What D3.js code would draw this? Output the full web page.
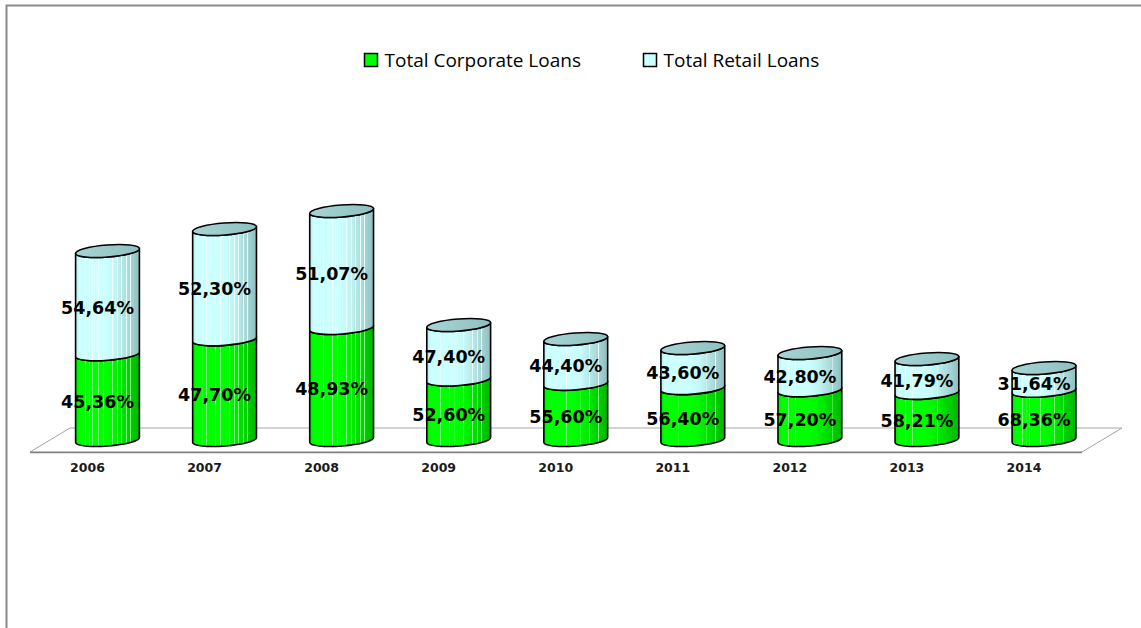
<!DOCTYPE html>
<html>
<head>
<meta charset="utf-8">
<script src="https://cdn.jsdelivr.net/npm/d3@7/dist/d3.min.js"></script>
<style>
  html, body { margin: 0; padding: 0; background: #fff; }
  svg { display: block; }
</style>
</head>
<body>
<svg id="chart" width="1141" height="628"></svg>
<script>
// Loan portfolio structure by year
const years = ["2006", "2007", "2008", "2009", "2010", "2011", "2012", "2013", "2014"];
// Share of corporate loans (%)
const corporateShare = [45.36, 47.70, 48.93, 52.60, 55.60, 56.40, 57.20, 58.21, 68.36];
// Share of retail loans (%)
const retailShare = [54.64, 52.30, 51.07, 47.40, 44.40, 43.60, 42.80, 41.79, 31.64];
// Total loan volume (index) – sets the overall cylinder height
const totalVolume = [18.9, 21.1, 22.9, 11.5, 10.1, 9.2, 8.7, 8.1, 7.2];
const seriesNames = ["Total Corporate Loans", "Total Retail Loans"];

const W = 1141, H = 628;
const svg = d3.select("#chart");

// frame
svg.append("rect").attr("width", W).attr("height", H).attr("fill", "#fff");
svg.append("path")
  .attr("d", `M6.5,${H} V5.5 H${W}`)
  .attr("fill", "none").attr("stroke", "#8a8a8a").attr("stroke-width", 2);

// scales
const x = d3.scalePoint().domain(years).range([107.5, 1044]);
const h = d3.scaleLinear().domain([0, 25]).range([0, 250]);
const baseY = 440;          // centre of cylinder bottoms on the floor
const rx = 32, ry = 6, tilt = -4.4;
const rad = tilt * Math.PI / 180;
const dx = rx * Math.cos(rad), dy = rx * Math.sin(rad);

// gradients for the cylinder walls
const defs = svg.append("defs");
function wallGradient(id, stops) {
  const g = defs.append("linearGradient").attr("id", id)
    .attr("x1", 0).attr("x2", 1).attr("y1", 0).attr("y2", 0);
  stops.forEach(([o, c]) => g.append("stop").attr("offset", o).attr("stop-color", c));
}
function striped(base, light, dark) {
  // smooth shading with thin light stripes across the wall
  const shade = d3.interpolateRgb(base, dark);
  const out = [];
  const stripes = [0.16, 0.22, 0.27, 0.36, 0.44, 0.58, 0.66, 0.72, 0.8, 0.86];
  const col = t => t < 0.5 ? base : shade(Math.pow((t - 0.5) / 0.5, 1.3));
  out.push([0, shade(0.35)]);
  out.push([0.06, base]);
  stripes.forEach(s => {
    out.push([s - 0.006, col(s)]);
    out.push([s - 0.005, light]);
    out.push([s + 0.005, light]);
    out.push([s + 0.006, col(s)]);
  });
  out.push([1, dark]);
  return out;
}
wallGradient("gCorp", striped("#00ff00", "#7dff7d", "#00b400"));
wallGradient("gRetail", striped("#ccffff", "#eaffff", "#8fbdbd"));
const capGrad = defs.append("linearGradient").attr("id", "gCap")
  .attr("x1", 0).attr("x2", 1).attr("y1", 0).attr("y2", 0);
capGrad.append("stop").attr("offset", 0).attr("stop-color", "#a6d4d4");
capGrad.append("stop").attr("offset", 1).attr("stop-color", "#8fc0c0");

// legend
const legend = svg.append("g").attr("font-family", "'Open Sans', sans-serif").attr("font-size", 19);
const legendItems = [
  { name: seriesNames[0], color: "#00ff00", x: 364.5 },
  { name: seriesNames[1], color: "#ccffff", x: 643.5 }
];
legendItems.forEach(d => {
  legend.append("rect").attr("x", d.x).attr("y", 53.5).attr("width", 13).attr("height", 13)
    .attr("fill", d.color).attr("stroke", "#000").attr("stroke-width", 1.5);
  legend.append("text").attr("x", d.x + 20).attr("y", 66.5).attr("fill", "#000").text(d.name);
});

// floor
svg.append("path")
  .attr("d", "M30,452 L70,428 L1122,428 L1082,452 Z")
  .attr("fill", "#fff").attr("stroke", "#a6a6a6").attr("stroke-width", 1);
svg.append("line").attr("x1", 30).attr("x2", 1082).attr("y1", 452.5).attr("y2", 452.5)
  .attr("stroke", "#808080").attr("stroke-width", 1.3);

// build stacked segments
const rows = years.map((yr, i) => {
  const total = totalVolume[i];
  const corp = total * corporateShare[i] / 100;
  const ret = total * retailShare[i] / 100;
  return [
    { year: yr, key: "corp", y0: 0, y1: corp, pct: corporateShare[i] },
    { year: yr, key: "ret", y0: corp, y1: corp + ret, pct: retailShare[i] }
  ];
});

function wallPath(cx, yBot, yTop) {
  const L = [cx - dx, yBot - dy], R = [cx + dx, yBot + dy];
  const Lt = [cx - dx, yTop - dy], Rt = [cx + dx, yTop + dy];
  return `M${Lt[0]},${Lt[1]} L${L[0]},${L[1]} ` +
    `A${rx},${ry} ${tilt} 0 0 ${R[0]},${R[1]} ` +
    `L${Rt[0]},${Rt[1]} ` +
    `A${rx},${ry} ${tilt} 0 1 ${Lt[0]},${Lt[1]} Z`;
}

const fmt = v => v.toFixed(2).replace(".", ",") + "%";
const bars = svg.append("g");
rows.forEach(segs => {
  const g = bars.append("g");
  segs.forEach(s => {
    const cx = x(s.year);
    const yBot = baseY - h(s.y0), yTop = baseY - h(s.y1);
    g.append("path")
      .attr("d", wallPath(cx, yBot, yTop))
      .attr("fill", s.key === "corp" ? "url(#gCorp)" : "url(#gRetail)")
      .attr("stroke", "#000").attr("stroke-width", 1.6).attr("stroke-linejoin", "round");
    if (s.key === "ret") {
      g.append("ellipse")
        .attr("cx", cx).attr("cy", yTop).attr("rx", rx).attr("ry", ry)
        .attr("transform", `rotate(${tilt},${cx},${yTop})`)
        .attr("fill", "url(#gCap)").attr("stroke", "#000").attr("stroke-width", 1.6);
    }
  });
});

// value labels
const labels = svg.append("g")
  .attr("font-family", "'DejaVu Sans', Verdana, sans-serif")
  .attr("font-weight", "bold").attr("font-size", 17.5)
  .attr("text-anchor", "middle").attr("fill", "#000");
rows.forEach(segs => segs.forEach(s => {
  const cx = x(s.year);
  const yMid = baseY - h((s.y0 + s.y1) / 2);
  labels.append("text").attr("x", cx - 10).attr("y", yMid + 5)
    .attr("dominant-baseline", "central").text(fmt(s.pct));
}));

// category axis labels
const axisG = svg.append("g")
  .attr("font-family", "'DejaVu Sans', Verdana, sans-serif")
  .attr("font-weight", "bold").attr("font-size", 12.5)
  .attr("text-anchor", "middle").attr("fill", "#1a1a1a");
years.forEach(yr => {
  axisG.append("text").attr("x", x(yr) - 20).attr("y", 472).text(yr);
});
</script>
</body>
</html>
